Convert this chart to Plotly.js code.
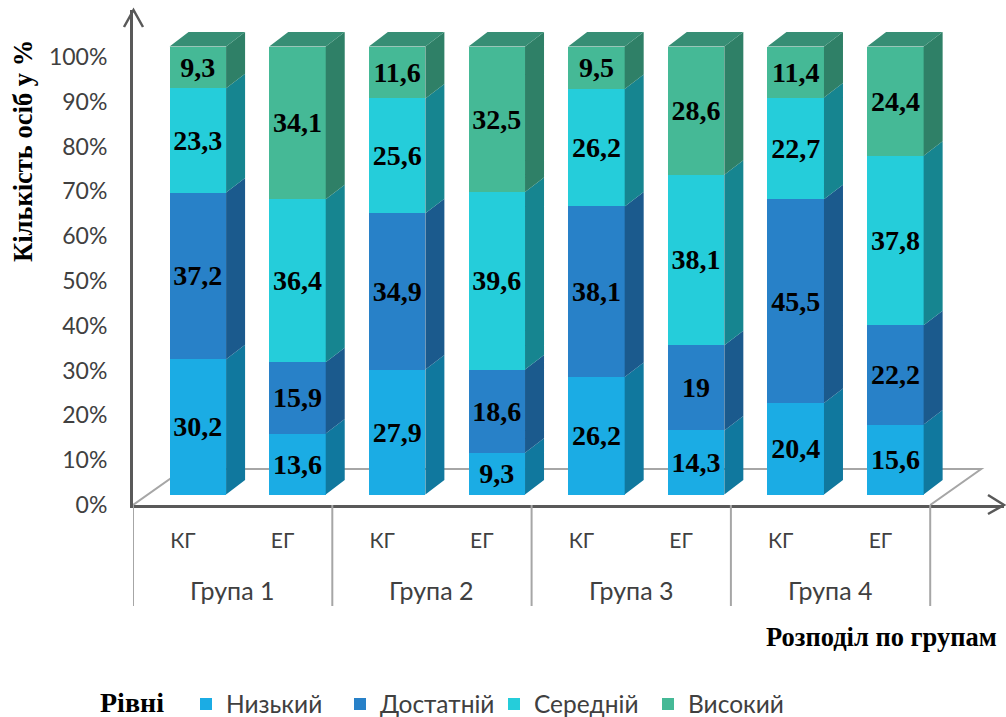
<!DOCTYPE html>
<html><head><meta charset="utf-8">
<script src="https://cdn.plot.ly/plotly-3.0.1.min.js"></script>
<style>html,body{margin:0;padding:0;background:#fff}</style>
</head><body><div id="chart" style="width:1006px;height:717px"></div>
<script>
const groups = ['Група 1','Група 2','Група 3','Група 4'];
const arms = ['КГ','ЕГ','КГ','ЕГ','КГ','ЕГ','КГ','ЕГ'];
const levels = ['Низький','Достатній','Середній','Високий'];
const low  = [30.2,13.6,27.9,9.3,26.2,14.3,20.4,15.6];
const suff = [37.2,15.9,34.9,18.6,38.1,19,45.5,22.2];
const mid  = [23.3,36.4,25.6,39.6,26.2,38.1,22.7,37.8];
const high = [9.3,34.1,11.6,32.5,9.5,28.6,11.4,24.4];
const yTicks = [0,10,20,30,40,50,60,70,80,90,100];
const front = ['#1BACE4','#2881C8','#25CDDA','#45B996'];
const side  = ['#10789E','#1B5A8D','#168590','#2F8067'];
const topColor = '#378E75';

const W=1006,H=717,L=133,R=1004,T=10,B=505;
const pxPerCat=99.65, pxPerPct=4.48;
const xSpan=(R-L)/pxPerCat, ySpan=(B-T)/pxPerPct;
const barShiftX=15/pxPerCat, barShiftY=10.5/pxPerPct;
const depthX=19/pxPerCat, depthY=14.5/pxPerPct;
const floorX=51/pxPerCat, floorY=36/pxPerPct;
const barW=0.567;
const px=x=>(x-L)/(R-L), py=y=>(B-y)/(B-T);

const series=[low,suff,mid,high];
const pos=arms.map((_,i)=>i);
const fmt=v=>String(v).replace('.',',');
const traces=[];
series.forEach((vals,s)=>{
  traces.push({type:'bar',name:levels[s],x:pos,y:vals,width:barW,xaxis:'x2',yaxis:'y2',
    marker:{color:front[s],line:{width:0}},text:vals.map(fmt),textposition:'inside',
    insidetextanchor:'middle',textangle:0,constraintext:'none',cliponaxis:false,
    insidetextfont:{family:'"Liberation Serif",serif',size:28,color:'#000',weight:700},hoverinfo:'name+y'});
});
series.forEach((vals,s)=>{
  const xs=[],ys=[];
  vals.forEach((v,i)=>{
    let c0=0; for(let k=0;k<s;k++) c0+=series[k][i];
    const c1=c0+v, r=i+barW/2;
    xs.push(r,r+depthX,r+depthX,r,r,null);
    ys.push(c0,c0+depthY,c1+depthY,c1,c0,null);
  });
  traces.push({type:'scatter',mode:'lines',x:xs,y:ys,xaxis:'x2',yaxis:'y2',fill:'toself',
    fillcolor:side[s],line:{width:0,color:side[s]},showlegend:false,hoverinfo:'skip'});
});
{
  const xs=[],ys=[];
  pos.forEach(i=>{
    let t=0; series.forEach(a=>t+=a[i]);
    const a=i-barW/2,b=i+barW/2;
    xs.push(a,a+depthX,b+depthX,b,a,null);
    ys.push(t,t+depthY,t+depthY,t,t,null);
  });
  traces.push({type:'scatter',mode:'lines',x:xs,y:ys,xaxis:'x2',yaxis:'y2',fill:'toself',
    fillcolor:topColor,line:{width:0,color:topColor},showlegend:false,hoverinfo:'skip'});
}

const grey='#A6A6A6', dark='#595959';
const shapes=[];
shapes.push({type:'path',xref:'x',yref:'y',layer:'below',
  path:`M0,0 L${floorX},${floorY} L${8+floorX},${floorY} L8,0`,line:{color:grey,width:2}});
groups.concat(['']).forEach((g,k)=>{
  shapes.push({type:'line',xref:'x',yref:'paper',x0:k*2,x1:k*2,y0:py(B),y1:py(606),line:{color:grey,width:2}});
});
shapes.push({type:'path',xref:'paper',yref:'paper',
  path:`M${px(124)},${py(27)} L${px(133.5)},${py(10)} L${px(143)},${py(27)}`,line:{color:dark,width:2.5}});
shapes.push({type:'path',xref:'paper',yref:'paper',
  path:`M${px(988)},${py(495)} L${px(1004)},${py(505)} L${px(988)},${py(514)}`,line:{color:dark,width:2.5}});

const labelFont='Lato, "Noto Sans", sans-serif';
const annotations=groups.map((g,k)=>({text:g,xref:'x',yref:'paper',x:k*2+1,y:py(590),showarrow:false,
  xanchor:'center',yanchor:'middle',font:{family:labelFont,size:25,color:'#404040'}}));
const serif='"Liberation Serif",serif';
annotations.push({text:'<b>Кількість осіб у %</b>',xref:'paper',yref:'paper',x:px(23),y:py(151),textangle:-90,showarrow:false,
  xanchor:'center',yanchor:'middle',font:{family:serif,size:26.5,color:'#000'}});
annotations.push({text:'<b>Розподіл по групам</b>',xref:'paper',yref:'paper',x:px(881.5),y:py(637),showarrow:false,
  xanchor:'center',yanchor:'middle',font:{family:serif,size:26.5,color:'#000'}});
annotations.push({text:'<b>Рівні</b>',xref:'paper',yref:'paper',x:px(132),y:py(702),showarrow:false,
  xanchor:'center',yanchor:'middle',font:{family:serif,size:28,color:'#000'}});

const layout={width:W,height:H,paper_bgcolor:'#fff',plot_bgcolor:'#fff',barmode:'stack',
  margin:{l:L,r:W-R,t:T,b:H-B,pad:0},hovermode:false,
  xaxis:{type:'linear',range:[0,xSpan],tickmode:'array',tickvals:pos.map(i=>i+0.5),ticktext:arms,
    ticks:'',showgrid:false,zeroline:false,showline:true,linecolor:dark,linewidth:3,ticklabelstandoff:15,
    tickfont:{family:labelFont,size:21,color:'#404040'}},
  yaxis:{range:[0,ySpan],tickmode:'array',tickvals:yTicks,ticktext:yTicks.map(v=>v+'%'),
    ticks:'',showgrid:false,zeroline:false,showline:true,linecolor:dark,linewidth:3,ticklabelstandoff:18,
    tickfont:{family:labelFont,size:23,color:'#404040'}},
  xaxis2:{type:'linear',overlaying:'x',anchor:'y2',range:[-0.5-barShiftX,xSpan-0.5-barShiftX],visible:false},
  yaxis2:{overlaying:'y',anchor:'x2',range:[-barShiftY,ySpan-barShiftY],visible:false},
  shapes,annotations,
  legend:{orientation:'h',xref:'container',yref:'container',x:186/W,xanchor:'left',y:(H-704)/H,yanchor:'middle',
    traceorder:'normal',entrywidthmode:'pixels',entrywidth:109,
    font:{family:labelFont,size:24.5,color:'#404040'},bgcolor:'rgba(0,0,0,0)'}
};
Plotly.newPlot('chart',traces,layout,{displayModeBar:false,responsive:false});
</script></body></html>
